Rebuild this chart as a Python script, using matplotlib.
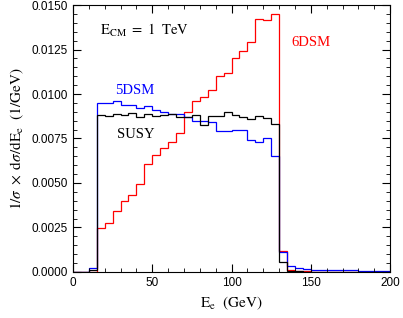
import matplotlib
matplotlib.use("Agg")
import matplotlib.pyplot as plt
import numpy as np
from matplotlib.ticker import MultipleLocator

plt.rcParams["mathtext.fontset"] = "stix"

# bin edges in GeV (5 GeV bins from 0 to 200)
edges = np.arange(0, 205, 5)

red_6dsm = [
    0.0, 0.0, 0.0, 0.00246, 0.00274, 0.00343, 0.00401, 0.00433, 0.00494, 0.00606,
    0.00655, 0.00696, 0.0073, 0.0078, 0.00897, 0.00963, 0.00985, 0.01023, 0.01103, 0.01118,
    0.01203, 0.01244, 0.01295, 0.0142, 0.01417, 0.01451, 0.0012, 0.00011, 0.00005, 0.00003,
    0.00002, 0.00002, 0.00002, 0.00002, 0.00002, 0.00002, 0.00002, 0.00002, 0.00002, 0.00002,
]
blue_5dsm = [
    0.0, 0.0, 0.0002, 0.0095, 0.0095, 0.0096, 0.0094, 0.0094, 0.0092, 0.0093,
    0.0091, 0.0090, 0.0089, 0.0089, 0.0087, 0.0085, 0.0085, 0.0084, 0.0079, 0.0079,
    0.0080, 0.0080, 0.0074, 0.0073, 0.0075, 0.0065, 0.00114, 0.00034, 0.0002, 0.00015,
    0.00012, 0.0001, 0.00009, 0.00008, 0.00008, 0.00008, 0.00007, 0.00007, 0.00007, 0.00007,
]
black_susy = [
    0.0, 0.0, 0.0001, 0.00884, 0.00878, 0.0089, 0.0088, 0.00893, 0.00873, 0.0089,
    0.00875, 0.0088, 0.0089, 0.0087, 0.0087, 0.00884, 0.00828, 0.00875, 0.00875, 0.00897,
    0.00884, 0.00871, 0.0086, 0.00875, 0.00863, 0.00833, 0.00058, 0.00007, 0.00003, 0.00002,
    0.00002, 0.00002, 0.00002, 0.00002, 0.00002, 0.00002, 0.00002, 0.00002, 0.00002, 0.00002,
]

fig = plt.figure(figsize=(4.03, 3.18), dpi=100)
ax = fig.add_axes([0.181, 0.145, 0.787, 0.839])

ax.stairs(red_6dsm, edges, color="#ff0000", linewidth=0.9)
ax.stairs(blue_5dsm, edges, color="#0000ff", linewidth=0.9)
ax.stairs(black_susy, edges, color="black", linewidth=0.9)

ax.set_xlim(0, 200)
ax.set_ylim(0, 0.015)
ax.xaxis.set_major_locator(MultipleLocator(50))
ax.xaxis.set_minor_locator(MultipleLocator(10))
ax.yaxis.set_major_locator(MultipleLocator(0.0025))
ax.yaxis.set_minor_locator(MultipleLocator(0.0005))
ax.yaxis.set_major_formatter(matplotlib.ticker.FormatStrFormatter("%.4f"))
ax.tick_params(which="both", direction="in", top=True, right=True, labelsize=8.5)
ax.tick_params(which="major", length=6, width=0.8)
ax.tick_params(which="minor", length=3, width=0.6)
for lab in ax.get_xticklabels() + ax.get_yticklabels():
    lab.set_family("Liberation Sans")

serif = "Liberation Serif"
ax.set_xlabel(r"$\mathrm{E_e}\ \ \mathrm{(GeV)}$", fontsize=11, family=serif)
ax.set_ylabel(r"$\mathrm{1/}\sigma\ \times\ \mathrm{d}\sigma\mathrm{/dE_e}\ \ \mathrm{(1/GeV)}$",
              fontsize=11, family=serif)

ax.text(17, 0.01357, r"$\mathrm{E_{CM}}\ =\ \mathrm{1\ \ TeV}$", fontsize=10.5,
        va="center", ha="left")
ax.text(26.5, 0.0102, "5DSM", color="#0000ff", fontsize=10.5, family=serif, va="center")
ax.text(27.5, 0.0077, "SUSY", color="black", fontsize=10.5, family=serif, va="center")
ax.text(138, 0.0129, "6DSM", color="#ff0000", fontsize=10.5, family=serif, va="center")

fig.savefig("out.png", dpi=100)
